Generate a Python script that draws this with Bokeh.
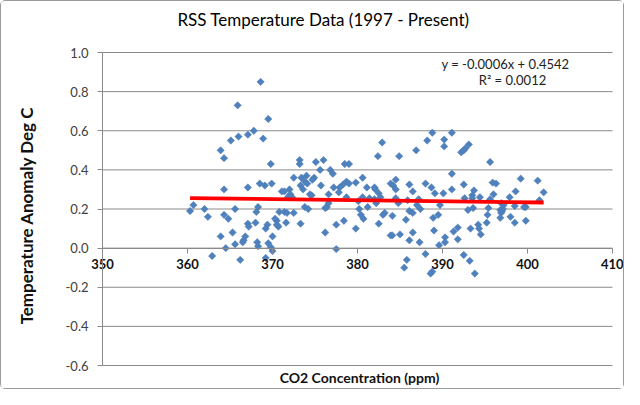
from bokeh.plotting import figure
from bokeh.models import Range1d, FixedTicker, Label, NumeralTickFormatter, ColumnDataSource
from bokeh.embed import file_html
from bokeh.resources import INLINE
import numpy as np

# ---- data ----
co2_ppm = [
    368.6, 365.9, 369.5, 365.1, 366.0, 367.1, 367.8, 368.9, 363.9, 364.3, 369.8, 364.3, 367.1, 368.5,
    369.1, 369.9, 360.3, 360.7, 362.0, 362.4, 364.3, 364.8, 365.6, 368.3, 368.1, 367.1, 367.2, 368.0,
    369.4, 369.2, 365.3, 363.9, 366.8, 366.6, 365.6, 364.5, 368.2, 368.3, 369.5, 369.8, 362.9, 366.2,
    369.2, 366.5, 370.0, 370.0,
    370.5, 370.5, 370.7, 373.2, 373.2, 375.1, 376.0, 378.5, 379.0, 375.6, 376.8, 377.1, 372.5, 373.4,
    374.0, 374.9, 374.7, 373.8, 374.1, 375.7, 378.7, 378.3, 377.9, 379.0, 379.8, 380.6, 373.3, 377.2,
    373.6, 372.0, 371.1, 371.4, 372.1, 371.8, 372.3, 374.4, 374.6, 376.6, 377.8, 378.7, 380.6, 380.1,
    376.6, 376.4, 376.2, 373.8, 374.2, 370.8, 371.4, 371.7, 372.5, 380.2, 380.4, 370.3, 371.6, 373.3,
    378.4, 377.5, 379.8, 376.2, 377.5,
    382.9, 382.4, 384.9, 386.9, 388.2, 388.8, 390.2, 390.2, 391.1, 391.1, 391.1, 381.1, 382.0, 382.1,
    382.5, 382.7, 383.9, 384.5, 384.2, 384.5, 386.1, 386.5, 388.0, 388.7, 389.1, 390.1, 381.4, 382.0,
    381.2, 382.2, 384.5, 384.8, 385.9, 387.2, 387.0, 387.4, 389.7, 383.2, 383.0, 384.1, 386.1, 386.5,
    388.9, 389.5, 380.7, 382.5, 385.7, 389.0, 391.3, 383.9, 384.1, 385.0, 386.5, 386.1, 387.3, 390.3,
    390.3, 389.6, 385.8, 385.5, 388.0, 388.8, 388.6,
    392.2, 392.5, 392.7, 393.1, 395.6, 392.5, 393.7, 393.5, 395.9, 396.3, 396.0, 392.6, 393.5, 394.4,
    395.6, 393.0, 393.6, 395.4, 396.9, 397.2, 397.9, 398.6, 399.2, 401.2, 401.9, 401.4, 399.8, 396.8,
    397.0, 397.1, 396.9, 398.5, 399.6, 398.0, 396.8, 398.5, 399.8, 395.3, 395.2, 391.8, 391.8, 393.3,
    394.2, 394.3, 394.5, 392.5, 393.2, 393.8,
]
temp_anomaly = [
    0.85, 0.73, 0.66, 0.55, 0.57, 0.58, 0.60, 0.56, 0.50, 0.46, 0.43, 0.30, 0.31, 0.33,
    0.32, 0.33, 0.19, 0.22, 0.20, 0.16, 0.17, 0.15, 0.20, 0.21, 0.185, 0.125, 0.11, 0.13,
    0.12, 0.10, 0.08, 0.06, 0.06, 0.04, 0.02, 0.00, 0.03, 0.01, 0.025, 0.005, -0.04, -0.06,
    -0.05, 0.03, -0.015, 0.06,
    0.14, 0.12, 0.11, 0.45, 0.43, 0.44, 0.45, 0.43, 0.43, 0.40, 0.40, 0.38, 0.36, 0.36,
    0.37, 0.36, 0.35, 0.34, 0.33, 0.32, 0.34, 0.325, 0.31, 0.33, 0.335, 0.36, 0.32, 0.31,
    0.30, 0.30, 0.29, 0.29, 0.275, 0.26, 0.26, 0.275, 0.27, 0.275, 0.285, 0.26, 0.26, 0.24,
    0.23, 0.21, 0.205, 0.21, 0.20, 0.185, 0.185, 0.18, 0.18, 0.20, 0.17, 0.15, 0.13, 0.125,
    0.14, 0.12, 0.10, 0.08, -0.005,
    0.54, 0.47, 0.47, 0.50, 0.55, 0.59, 0.555, 0.52, 0.59, 0.38, 0.30, 0.31, 0.31, 0.30,
    0.28, 0.26, 0.33, 0.35, 0.32, 0.30, 0.325, 0.29, 0.33, 0.31, 0.28, 0.28, 0.255, 0.25,
    0.21, 0.23, 0.255, 0.23, 0.245, 0.25, 0.22, 0.20, 0.22, 0.18, 0.17, 0.165, 0.19, 0.18,
    0.155, 0.17, 0.15, 0.125, 0.145, 0.09, 0.085, 0.065, 0.065, 0.07, 0.08, 0.04, 0.03, 0.055,
    0.03, 0.015, -0.06, -0.10, -0.03, -0.12, -0.13,
    0.49, 0.50, 0.51, 0.53, 0.44, 0.325, 0.295, 0.27, 0.335, 0.33, 0.275, 0.255, 0.255, 0.26,
    0.25, 0.195, 0.205, 0.205, 0.23, 0.22, 0.26, 0.29, 0.355, 0.345, 0.285, 0.245, 0.21, 0.195,
    0.19, 0.20, 0.18, 0.215, 0.21, 0.16, 0.155, 0.13, 0.14, 0.17, 0.13, 0.105, 0.045, 0.10,
    0.12, 0.10, 0.07, -0.035, -0.065, -0.13,
]
trend_slope = -0.00055
trend_intercept = 0.4542
equation_text = "y = -0.0006x + 0.4542"
r2_text = "R\u00b2 = 0.0012"
x_ticks = [350, 360, 370, 380, 390, 400, 410]
y_ticks = [-0.6, -0.4, -0.2, 0.0, 0.2, 0.4, 0.6, 0.8, 1.0]
title_text = "RSS Temperature Data (1997 - Present)"
x_title = "CO2 Concentration (ppm)"
y_title = "Temperature Anomaly Deg C"

FONT = "Lato"
GRID = "#8a8a8a"

# ---- layout: the frame fills the canvas, the plot box is placed inside it ----
W, H = 624, 389
L, R, T, B = 101, 611, 51, 364
x0, x1 = x_ticks[0], x_ticks[-1]
y0, y1 = y_ticks[0], y_ticks[-1]
kx = (R - L) / (x1 - x0)
ky = (B - T) / (y1 - y0)

p = figure(width=W, height=H, output_backend="svg", toolbar_location=None,
           x_range=Range1d(x0 - L / kx, x1 + (W - R) / kx),
           y_range=Range1d(y0 - (H - B) / ky, y1 + T / ky),
           min_border=0, background_fill_color="white", border_fill_color="white")
p.title.visible = False
p.outline_line_color = None
p.styles = {"border": "1px solid #9a9a9a", "border-radius": "5px"}
p.xgrid.visible = False
p.ygrid.visible = False

# horizontal gridlines
p.segment(x0=[x0] * len(y_ticks), x1=[x1] * len(y_ticks), y0=y_ticks, y1=y_ticks,
          line_color=GRID, line_width=1)

# y axis
p.yaxis.fixed_location = x0
p.yaxis.bounds = (y0, y1)
p.yaxis.ticker = FixedTicker(ticks=y_ticks)
p.yaxis.formatter = NumeralTickFormatter(format="0.0")
p.yaxis.major_label_text_font = FONT
p.yaxis.major_label_text_font_size = "13px"
p.yaxis.major_label_text_color = "#404040"
p.yaxis.axis_line_color = GRID
p.yaxis.major_tick_line_color = GRID
p.yaxis.major_tick_out = 5
p.yaxis.major_tick_in = 0
p.yaxis.minor_tick_line_color = None
p.yaxis.major_label_standoff = 9

# x axis crossing at y = 0
p.xaxis.fixed_location = 0
p.xaxis.bounds = (x0, x1)
p.xaxis.ticker = FixedTicker(ticks=x_ticks)
p.xaxis.major_label_text_font = FONT
p.xaxis.major_label_text_font_size = "13px"
p.xaxis.major_label_text_font_style = "bold"
p.xaxis.major_label_text_color = "#111111"
p.xaxis.axis_line_color = GRID
p.xaxis.major_tick_line_color = GRID
p.xaxis.major_tick_out = 5
p.xaxis.major_tick_in = 0
p.xaxis.minor_tick_line_color = None
p.xaxis.major_label_standoff = 6

# points
src = ColumnDataSource(data=dict(x=co2_ppm, y=temp_anomaly))
p.scatter("x", "y", source=src, marker="square", angle=np.pi / 4, size=5.2,
          fill_color="#4f81bd", line_color="#4a7ab5", line_width=0.5)

# trend line
tx = np.array([min(co2_ppm), max(co2_ppm)])
p.line(tx, trend_intercept + trend_slope * tx, line_color="#ff0000", line_width=3.8)

# titles and trend label (screen units: x from left, y from bottom)
p.add_layout(Label(x=322, y=H - 18, x_units="screen", y_units="screen", text=title_text,
                   text_font=FONT, text_font_size="17px", text_align="center",
                   text_baseline="middle", text_color="#000000"))
p.add_layout(Label(x=(L + R) / 2 + 2, y=13, x_units="screen", y_units="screen", text=x_title,
                   text_font=FONT, text_font_size="14px", text_font_style="bold",
                   text_align="center", text_baseline="middle", text_color="#111111"))
p.add_layout(Label(x=25, y=175, x_units="screen", y_units="screen", text=y_title,
                   angle=np.pi / 2, text_font=FONT, text_font_size="17px",
                   text_font_style="bold", text_align="center", text_baseline="middle",
                   text_color="#111111"))
p.add_layout(Label(x=504, y=H - 62, x_units="screen", y_units="screen", text=equation_text,
                   text_font=FONT, text_font_size="13px", text_align="center",
                   text_baseline="middle", text_color="#222222"))
p.add_layout(Label(x=511, y=H - 78, x_units="screen", y_units="screen", text=r2_text,
                   text_font=FONT, text_font_size="13px", text_align="center",
                   text_baseline="middle", text_color="#222222"))

open("out.html", "w").write(file_html(p, INLINE))
